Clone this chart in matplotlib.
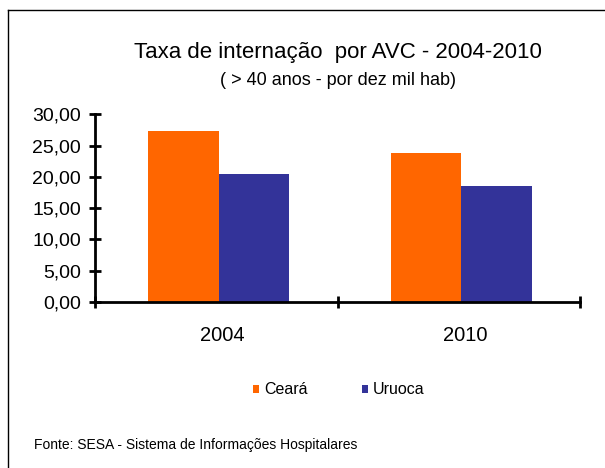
import numpy as np
import matplotlib
matplotlib.use("Agg")
import matplotlib.pyplot as plt
from matplotlib.lines import Line2D

plt.rcParams['font.family'] = ['Liberation Sans', 'DejaVu Sans']

anos = ['2004', '2010']
ceara = [27.4, 23.8]
uruoca = [20.5, 18.5]
yticks = [0, 5, 10, 15, 20, 25, 30]

fig = plt.figure(figsize=(6.05, 4.68), dpi=100)
ax = fig.add_axes([0.157, 0.3547, 0.802, 0.401])

x = np.arange(len(anos))
w = 0.29
ax.bar(x - w / 2 + 0.01, ceara, w, color='#FF6600', label='Ceará')
ax.bar(x + w / 2 + 0.01, uruoca, w, color='#333399', label='Uruoca')

ax.set_xlim(-0.5, 1.5)
ax.set_ylim(0, 30)
ax.set_yticks(yticks)
ax.set_yticklabels([f'{v:.2f}'.replace('.', ',') for v in yticks], fontsize=14)
ax.set_xticks([-0.5, 0.5, 1.5])
ax.set_xticklabels([])
ax.set_xticks(x + 0.025, minor=True)
ax.set_xticklabels(anos, minor=True, fontsize=14.5)
ax.tick_params(axis='x', which='minor', length=0, pad=17)
ax.tick_params(axis='both', which='major', direction='inout', length=8, width=2)
ax.tick_params(axis='y', pad=6)
for s in ['top', 'right']:
    ax.spines[s].set_visible(False)
for s in ['left', 'bottom']:
    ax.spines[s].set_linewidth(2)
ax.spines['bottom'].set_zorder(5)

fig.text(0.558, 0.887, 'Taxa de internação  por AVC - 2004-2010', ha='center', va='center', fontsize=16)
fig.text(0.558, 0.829, '( > 40 anos - por dez mil hab)', ha='center', va='center', fontsize=13)

ax.legend(loc='center', bbox_to_anchor=(0.56, 0.167), bbox_transform=fig.transFigure,
          ncol=2, frameon=False, fontsize=11.5, handlelength=0.4, handleheight=0.4,
          handletextpad=0.3, columnspacing=3.4)

fig.text(0.056, 0.049, 'Fonte: SESA - Sistema de Informações Hospitalares', fontsize=10, va='center')

# moldura (só topo e esquerda aparecem no recorte)
fig.add_artist(Line2D([0.013, 1.0], [0.979, 0.979], color='black', lw=1, transform=fig.transFigure))
fig.add_artist(Line2D([0.013, 0.013], [0.0, 0.979], color='black', lw=1, transform=fig.transFigure))

fig.savefig('out.png', dpi=100)
